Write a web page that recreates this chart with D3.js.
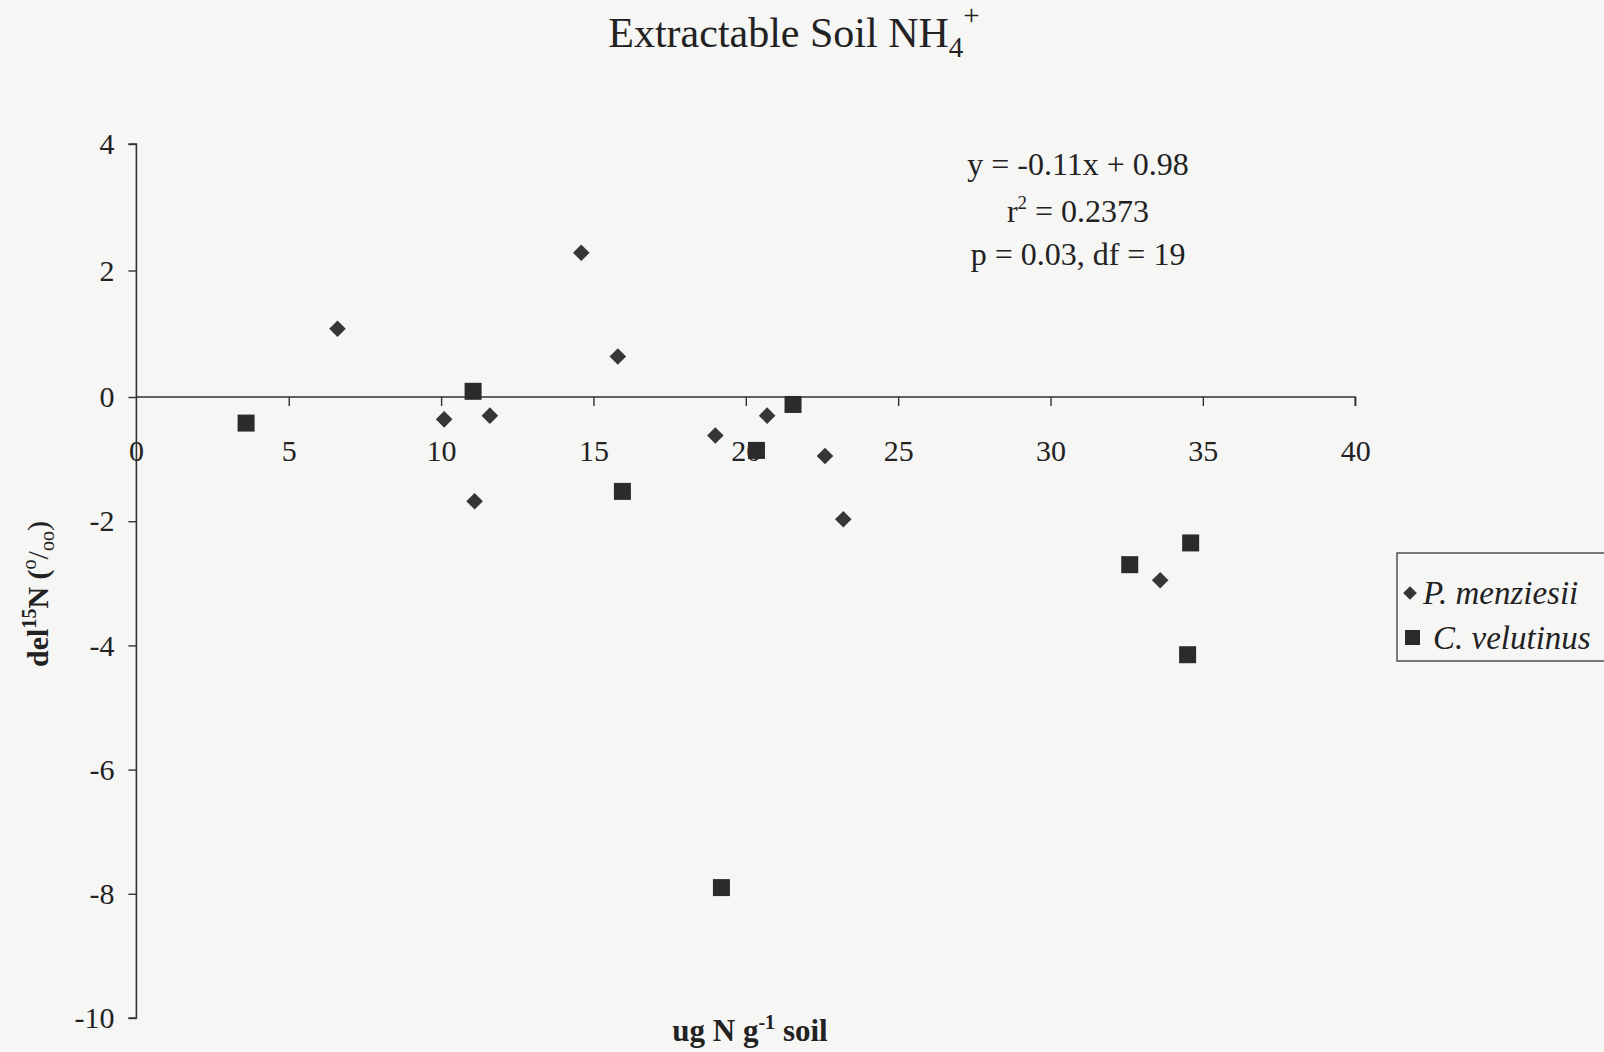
<!DOCTYPE html>
<html>
<head>
<meta charset="utf-8">
<script src="https://cdn.jsdelivr.net/npm/d3@7"></script>
<style>
  html, body { margin: 0; padding: 0; background: #f6f6f5; }
  svg { display: block; }
  text { font-family: "Liberation Serif", "Times New Roman", serif; fill: #222222; }
</style>
</head>
<body>
<svg id="chart" width="1604" height="1052"></svg>
<script>
// P. menziesii samples: extractable NH4+ (ug N / g soil) vs del15N
const menziesiiX = [6.6, 14.6, 15.8, 10.1, 11.6, 11.1, 19.0, 20.7, 22.6, 23.2, 33.6];
const menziesiiY = [1.08, 2.28, 0.64, -0.36, -0.30, -1.68, -0.62, -0.30, -0.95, -1.97, -2.95];

// C. velutinus samples
const velutinusX = [3.6, 11.05, 15.95, 20.35, 21.55, 32.6, 34.6, 34.5, 19.2];
const velutinusY = [-0.42, 0.09, -1.52, -0.86, -0.12, -2.7, -2.35, -4.15, -7.9];

const xTicks = [0, 5, 10, 15, 20, 25, 30, 35, 40];
const yTicks = [4, 2, 0, -2, -4, -6, -8, -10];

const statLines = ["y = -0.11x + 0.98", "r2 = 0.2373", "p = 0.03, df = 19"];
const seriesNames = ["P. menziesii", "C. velutinus"];

const svg = d3.select("#chart");
const ink = "#333333";
const markFill = "#363636";

// scales
const x = d3.scaleLinear().domain([0, 40]).range([136.4, 1355.2]);
const y = d3.scaleLinear().domain([-10, 0, 4]).range([1018, 397, 144]);

// title: Extractable Soil NH4+
const title = svg.append("text")
  .attr("x", 794).attr("y", 47)
  .attr("text-anchor", "middle")
  .style("font-size", "42px");
title.append("tspan").text("Extractable Soil NH");
title.append("tspan").attr("dy", 10).style("font-size", "29px").text("4");
title.append("tspan").attr("dy", -32).style("font-size", "29px").text("+");

// y axis (vertical, ticks outward to the left)
const yAxis = d3.axisLeft(y).tickValues(yTicks).tickSize(8).tickPadding(14)
  .tickFormat(d3.format("d"));
const gy = svg.append("g").attr("transform", `translate(${x(0)},0)`).call(yAxis);
gy.select(".domain").attr("stroke", ink).attr("stroke-width", 1.6)
  .attr("d", `M-8,${y(4)}H0V${y(-10)}H-8`);
gy.selectAll(".tick line").attr("stroke", ink).attr("stroke-width", 1.4);
gy.selectAll(".tick text")
  .style("font-size", "30px")
  .style("font-family", "'Liberation Serif', serif")
  .attr("fill", "#222222")
  .text(d => d < 0 ? "-" + Math.abs(d) : d);

// x axis drawn along y = 0, ticks hanging below
const xAxis = d3.axisBottom(x).tickValues(xTicks.filter(d => d > 0)).tickSize(9).tickPadding(0)
  .tickFormat(d3.format("d"));
const gx = svg.append("g").attr("transform", `translate(0,${y(0)})`).call(xAxis);
gx.select(".domain").attr("stroke", ink).attr("stroke-width", 1.6)
  .attr("d", `M${x(0)},0H${x(40)}V9`);
gx.selectAll(".tick line").attr("stroke", ink).attr("stroke-width", 1.4);
gx.selectAll(".tick text")
  .attr("y", 64).attr("dy", null)
  .style("font-size", "30px")
  .style("font-family", "'Liberation Serif', serif")
  .attr("fill", "#222222");
// the origin label sits on the vertical axis
svg.append("text")
  .attr("x", x(0)).attr("y", y(0) + 64)
  .attr("text-anchor", "middle")
  .style("font-size", "30px")
  .text(xTicks[0]);

// regression statistics
const stats = svg.append("g").attr("transform", "translate(1078,0)");
const statY = [175, 222, 265];
statLines.forEach((s, i) => {
  const t = stats.append("text").attr("y", statY[i]).attr("text-anchor", "middle")
    .style("font-size", "32px");
  if (s.startsWith("r2")) {
    t.append("tspan").text("r");
    t.append("tspan").attr("dy", -13).style("font-size", "19px").text("2");
    t.append("tspan").attr("dy", 13).text(s.slice(2));
  } else {
    t.text(s);
  }
});

// data points
const menziesii = menziesiiX.map((v, i) => [v, menziesiiY[i]]);
const velutinus = velutinusX.map((v, i) => [v, velutinusY[i]]);

const diamond = d3.symbol().type(d3.symbolDiamond2).size(175);
svg.append("g").selectAll("path").data(menziesii).join("path")
  .attr("d", diamond)
  .attr("transform", d => `translate(${x(d[0])},${y(d[1])})`)
  .attr("fill", markFill);

const sq = 17;
svg.append("g").selectAll("rect").data(velutinus).join("rect")
  .attr("x", d => x(d[0]) - sq / 2)
  .attr("y", d => y(d[1]) - sq / 2)
  .attr("width", sq).attr("height", sq)
  .attr("fill", "#2b2b2b");

// axis titles
const xl = svg.append("text")
  .attr("x", 750).attr("y", 1041)
  .attr("text-anchor", "middle")
  .style("font-size", "31px").style("font-weight", "bold");
xl.append("tspan").text("ug N g");
xl.append("tspan").attr("dy", -12).style("font-size", "20px").text("-1");
xl.append("tspan").attr("dy", 12).text(" soil");

const yl = svg.append("text")
  .attr("transform", "translate(48,594) rotate(-90)")
  .attr("text-anchor", "middle")
  .style("font-size", "30px").style("font-weight", "bold");
yl.append("tspan").text("del");
yl.append("tspan").attr("dy", -12).style("font-size", "20px").text("15");
yl.append("tspan").attr("dy", 12).text("N (");
yl.append("tspan").attr("dy", -12).style("font-size", "20px").style("font-weight", "normal").text("o");
yl.append("tspan").attr("dy", 12).style("font-weight", "normal").text("/");
yl.append("tspan").attr("dy", 6).style("font-size", "20px").style("font-weight", "normal").text("oo");
yl.append("tspan").attr("dy", -6).style("font-weight", "normal").text(")");

// legend
const lg = svg.append("g").attr("transform", "translate(1397,553)");
lg.append("rect").attr("width", 212).attr("height", 108)
  .attr("fill", "none").attr("stroke", "#444").attr("stroke-width", 1.4);
const entryY = [40, 85];
const textX = [26, 36];
seriesNames.forEach((name, i) => {
  const cy = entryY[i];
  if (i === 0) {
    lg.append("path").attr("d", d3.symbol().type(d3.symbolDiamond2).size(120))
      .attr("transform", `translate(13,${cy})`).attr("fill", markFill);
  } else {
    lg.append("rect").attr("x", 8).attr("y", cy - 8).attr("width", 15).attr("height", 15)
      .attr("fill", "#2b2b2b");
  }
  lg.append("text").attr("x", textX[i]).attr("y", cy + 11)
    .style("font-size", "33px").style("font-style", "italic")
    .text(name);
});
</script>
</body>
</html>
